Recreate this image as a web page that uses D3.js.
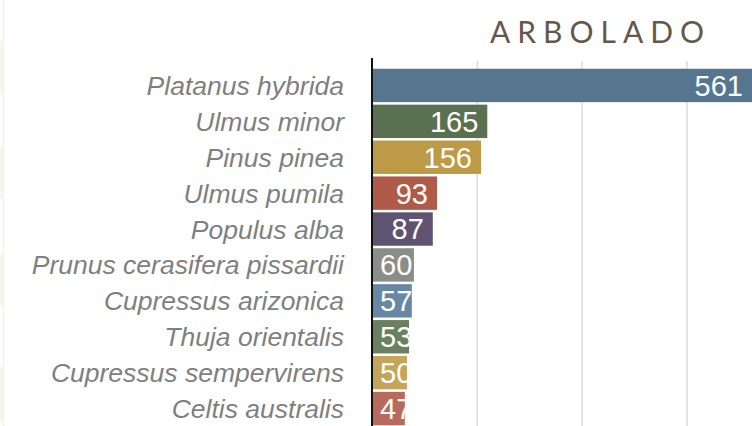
<!DOCTYPE html>
<html>
<head>
<meta charset="utf-8">
<script src="https://cdn.jsdelivr.net/npm/d3@7"></script>
<style>
  html, body { margin: 0; padding: 0; background: #fff; overflow: hidden; }
</style>
</head>
<body>
<svg id="chart" width="752" height="426"></svg>
<script>
// data
const species = [
  'Platanus hybrida', 'Ulmus minor', 'Pinus pinea', 'Ulmus pumila', 'Populus alba',
  'Prunus cerasifera pissardii', 'Cupressus arizonica', 'Thuja orientalis',
  'Cupressus sempervirens', 'Celtis australis'
];
const counts = [561, 165, 156, 93, 87, 60, 57, 53, 50, 47];
const barColors = [
  '#56768f', '#5b7050', '#bd9a45', '#b05b4a', '#5e5472',
  '#8b8e87', '#6788a4', '#6a8160', '#c5a45b', '#b86a5b'
];
const gridTicks = [150, 300, 450];
const title = 'ARBOLADO';

const data = species.map((name, i) => ({ name, value: counts[i], color: barColors[i] }));

const svg = d3.select('#chart');
const W = 752;
const plotLeft = 372;
const plotTop = 67.5;

// faint page strips on the far left
const strips = [[41, 95], [147, 199], [254, 306], [367, 422]];
svg.append('g')
  .selectAll('rect')
  .data(strips)
  .join('rect')
  .attr('x', 0)
  .attr('y', (d) => d[0])
  .attr('width', 3)
  .attr('height', (d) => d[1] - d[0])
  .attr('fill', '#fbf4e8');
svg.append('line')
  .attr('x1', 3.5).attr('x2', 3.5)
  .attr('y1', 0).attr('y2', 426)
  .attr('stroke', '#efefef');

// scales
const x = d3.scaleLinear()
  .domain([0, d3.max(counts)])
  .range([plotLeft, plotLeft + 392]);

const y = d3.scaleBand()
  .domain(species)
  .range([plotTop, plotTop + 359])
  .paddingInner(0.07)
  .paddingOuter(0.035);

// grid
svg.append('g')
  .selectAll('line')
  .data(gridTicks)
  .join('line')
  .attr('x1', (d) => x(d) + 0.5)
  .attr('x2', (d) => x(d) + 0.5)
  .attr('y1', 61)
  .attr('y2', 426)
  .attr('stroke', '#dcdcdc')
  .attr('stroke-width', 1.5);

// title
svg.append('text')
  .attr('x', 490)
  .attr('y', 43)
  .attr('font-family', 'Lato, "Open Sans", sans-serif')
  .attr('font-size', 30)
  .attr('letter-spacing', 7)
  .attr('fill', '#65584b')
  .text(title);

// clip paths per bar so labels get cut at the bar end
const defs = svg.append('defs');
defs.selectAll('clipPath')
  .data(data)
  .join('clipPath')
  .attr('id', (d, i) => 'clip' + i)
  .append('rect')
  .attr('x', plotLeft)
  .attr('y', (d) => y(d.name))
  .attr('width', (d) => x(d.value) - plotLeft)
  .attr('height', y.bandwidth());

// bars
const bars = svg.append('g')
  .selectAll('g')
  .data(data)
  .join('g');

bars.append('rect')
  .attr('x', plotLeft + 1)
  .attr('y', (d) => y(d.name))
  .attr('width', (d) => x(d.value) - plotLeft - 1)
  .attr('height', y.bandwidth())
  .attr('fill', (d) => d.color);

const values = bars.append('text')
  .attr('clip-path', (d, i) => `url(#clip${i})`)
  .attr('y', (d) => y(d.name) + y.bandwidth() / 2)
  .attr('dy', '0.36em')
  .attr('font-family', '"Liberation Sans", Arial, sans-serif')
  .attr('font-size', 29)
  .attr('fill', '#fff')
  .attr('text-anchor', 'end')
  .text((d) => d.value);

values.each(function (d) {
  const w = this.getComputedTextLength();
  const xEnd = Math.max(Math.min(x(d.value), W) - 9, plotLeft + 8 + w);
  d3.select(this).attr('x', xEnd);
});

// category labels
svg.append('g')
  .selectAll('text')
  .data(data)
  .join('text')
  .attr('x', 344)
  .attr('y', (d) => y(d.name) + y.bandwidth() / 2)
  .attr('dy', '0.36em')
  .attr('text-anchor', 'end')
  .attr('font-family', '"Liberation Sans", Arial, sans-serif')
  .attr('font-style', 'italic')
  .attr('font-size', 26.5)
  .attr('fill', '#7f7f7f')
  .text((d) => d.name);

// axis line
svg.append('line')
  .attr('x1', plotLeft)
  .attr('x2', plotLeft)
  .attr('y1', 58)
  .attr('y2', 426)
  .attr('stroke', '#111')
  .attr('stroke-width', 2);
</script>
</body>
</html>
